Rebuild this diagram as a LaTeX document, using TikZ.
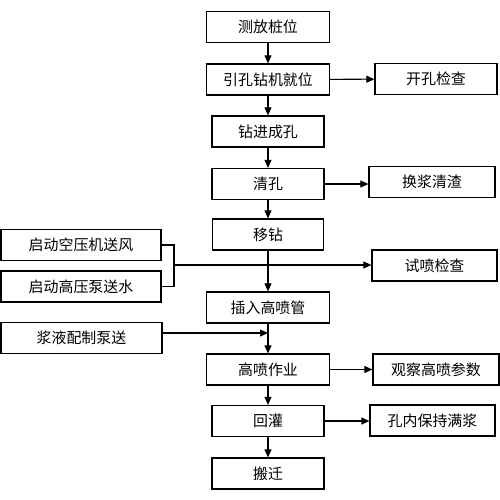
\documentclass[tikz,border=0pt]{standalone}
\usepackage{fontspec}
\newfontfamily\cjk{Noto Sans CJK SC}
\usetikzlibrary{arrows.meta}

\begin{document}
\begin{tikzpicture}[x=0.2mm, y=-0.2mm,
	box/.style={draw, line width=0.7pt, inner sep=0pt, minimum height=6.2mm, font=\cjk\fontsize{8.5}{10}\selectfont},
	arr/.style={line width=0.6pt, -{Triangle[length=1.6mm, width=1.4mm]}},
	lin/.style={line width=0.6pt}]
			%%%%% START %%%%%
			\useasboundingbox (0, 0) rectangle (500, 500);
			
			% main column
			\node[box, minimum width=24.6mm] (celiang) at (268, 27) {测放桩位};
			\node[box, minimum width=24.6mm] (yinkong) at (268, 79.5) {引孔钻机就位};
			\node[box, minimum width=22.4mm] (zuanjin) at (268, 131.5) {钻进成孔};
			\node[box, minimum width=22.4mm] (qingkong) at (268, 184) {清孔};
			\node[box, minimum width=22.2mm] (yizuan) at (268, 234.5) {移钻};
			\node[box, minimum width=24.6mm] (charu) at (268, 307.5) {插入高喷管};
			\node[box, minimum width=24.6mm] (gaopen) at (268, 369.5) {高喷作业};
			\node[box, minimum width=22.4mm] (huiguan) at (268, 421) {回灌};
			\node[box, minimum width=22.4mm] (banqian) at (268, 473.5) {搬迁};
			
			% right column
			\node[box, minimum width=24.4mm] (kaikong) at (436, 79) {开孔检查};
			\node[box, minimum width=25.2mm] (huanjiang) at (432, 182) {换浆清渣};
			\node[box, minimum width=25mm] (shipen) at (434.5, 265.5) {试喷检查};
			\node[box, minimum width=25.2mm] (guancha) at (436, 369.5) {观察高喷参数};
			\node[box, minimum width=25mm] (baochi) at (432.5, 420.5) {孔内保持满浆};
			
			% left column
			\node[box, minimum width=32mm] (kongya) at (81, 245) {启动空压机送风};
			\node[box, minimum width=32mm] (gaoya) at (81, 286.5) {启动高压泵送水};
			\node[box, minimum width=32.2mm] (jiangye) at (81.5, 338) {浆液配制泵送};
			
			\coordinate (hub) at (174, 265);
			\coordinate (inject) at (268, 333);
			
			% arrows down
			\draw[arr] (celiang) -- (yinkong);
			\draw[arr] (yinkong) -- (zuanjin);
			\draw[arr] (zuanjin) -- (qingkong);
			\draw[arr] (qingkong) -- (yizuan);
			\draw[arr] (yizuan) -- (charu);
			\draw[arr] (charu) -- (gaopen);
			\draw[arr] (gaopen) -- (huiguan);
			\draw[arr] (huiguan) -- (banqian);
			
			% arrows right
			\draw[arr] (yinkong) -- (kaikong);
			\draw[arr] (qingkong.east) -- (qingkong.east -| huanjiang.west);
			\draw[arr] (gaopen) -- (guancha);
			\draw[arr] (huiguan.east) -- (huiguan.east -| baochi.west);
			
			% feeds from left
			\draw[lin] (kongya.east) -| (hub) |- (gaoya.east);
			\draw[arr] (hub) -- (hub -| shipen.west);
			\draw[arr] (jiangye.east |- inject) -- (inject);
			
			%%%%% END %%%%%
\end{tikzpicture}
\end{document}
